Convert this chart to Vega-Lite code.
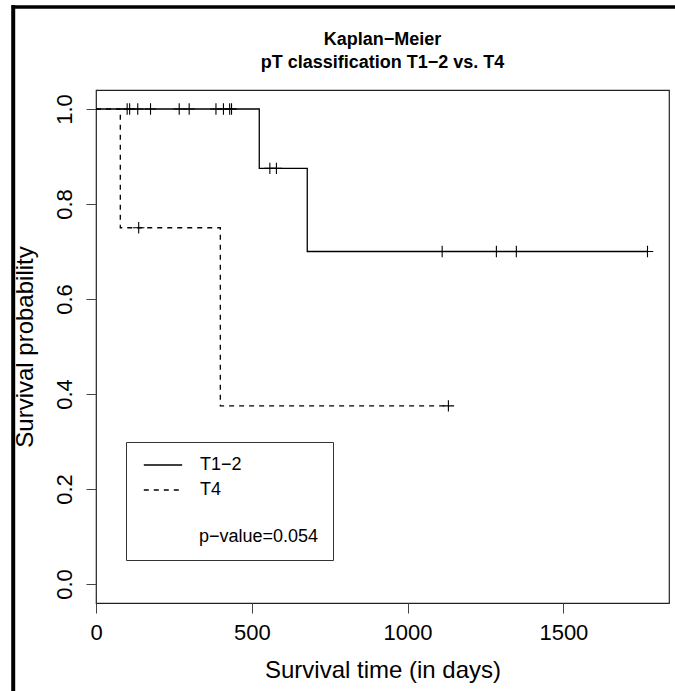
{
  "$schema": "https://vega.github.io/schema/vega-lite/v6.json",
  "width": 573,
  "height": 513,
  "autosize": {"type": "none"},
  "padding": {"left": 96, "top": 90, "right": 6, "bottom": 88},
  "background": "white",
  "config": {
    "font": "Liberation Sans",
    "view": {"stroke": "#222", "strokeWidth": 1.2}
  },
  "title": {
    "text": ["Kaplan−Meier", "pT classification T1−2 vs. T4"],
    "fontSize": 18,
    "fontWeight": "bold",
    "color": "black",
    "anchor": "middle",
    "frame": "group",
    "offset": 17,
    "dy": 86,
    "lineHeight": 23
  },
  "datasets": {
    "curves": [
      {"time": 0, "surv": 1.0, "group": "T1−2"},
      {"time": 524, "surv": 0.875, "group": "T1−2"},
      {"time": 678, "surv": 0.7, "group": "T1−2"},
      {"time": 1770, "surv": 0.7, "group": "T1−2"},
      {"time": 0, "surv": 1.0, "group": "T4"},
      {"time": 78, "surv": 0.75, "group": "T4"},
      {"time": 399, "surv": 0.375, "group": "T4"},
      {"time": 1131, "surv": 0.375, "group": "T4"}
    ],
    "censored": [
      {"time": 100, "surv": 1.0, "group": "T1−2"},
      {"time": 108, "surv": 1.0, "group": "T1−2"},
      {"time": 134, "surv": 1.0, "group": "T1−2"},
      {"time": 175, "surv": 1.0, "group": "T1−2"},
      {"time": 267, "surv": 1.0, "group": "T1−2"},
      {"time": 299, "surv": 1.0, "group": "T1−2"},
      {"time": 385, "surv": 1.0, "group": "T1−2"},
      {"time": 409, "surv": 1.0, "group": "T1−2"},
      {"time": 429, "surv": 1.0, "group": "T1−2"},
      {"time": 435, "surv": 1.0, "group": "T1−2"},
      {"time": 558, "surv": 0.875, "group": "T1−2"},
      {"time": 579, "surv": 0.875, "group": "T1−2"},
      {"time": 1111, "surv": 0.7, "group": "T1−2"},
      {"time": 1285, "surv": 0.7, "group": "T1−2"},
      {"time": 1349, "surv": 0.7, "group": "T1−2"},
      {"time": 1770, "surv": 0.7, "group": "T1−2"},
      {"time": 137, "surv": 0.75, "group": "T4"},
      {"time": 1131, "surv": 0.375, "group": "T4"}
    ]
  },
  "layer": [
    {
      "data": {"name": "curves"},
      "mark": {"type": "line", "interpolate": "step-after", "color": "black", "strokeWidth": 1.3},
      "encoding": {
        "x": {
          "field": "time",
          "type": "quantitative",
          "scale": {"domain": [0, 1839], "nice": false, "zero": false},
          "axis": {
            "values": [0, 500, 1000, 1500],
            "format": "d",
            "grid": false,
            "domain": false,
            "tickSize": 10,
            "tickColor": "#444",
            "labelFontSize": 22,
            "labelColor": "black",
            "labelPadding": 9,
            "labelFlush": false,
            "labelOverlap": false,
            "title": "Survival time (in days)",
            "titleFontSize": 24,
            "titleFontWeight": "normal",
            "titleColor": "black",
            "titleBaseline": "alphabetic",
            "titleY": 74
          }
        },
        "y": {
          "field": "surv",
          "type": "quantitative",
          "scale": {"domain": [-0.04, 1.04], "nice": false, "zero": false},
          "axis": {
            "values": [0, 0.2, 0.4, 0.6, 0.8, 1.0],
            "format": ".1f",
            "grid": false,
            "domain": false,
            "tickSize": 10,
            "tickColor": "#444",
            "labelFontSize": 22,
            "labelColor": "black",
            "labelAngle": 270,
            "labelAlign": "center",
            "labelBaseline": "alphabetic",
            "labelPadding": 15,
            "labelOverlap": false,
            "title": "Survival probability",
            "titleFontSize": 24,
            "titleFontWeight": "normal",
            "titleColor": "black",
            "titleAngle": 270,
            "titleAlign": "center",
            "titleBaseline": "alphabetic",
            "titleX": -64,
            "titleY": 256.5
          }
        },
        "strokeDash": {
          "field": "group",
          "type": "nominal",
          "scale": {"domain": ["T1−2", "T4"], "range": [[1, 0], [5, 5]]},
          "legend": {
            "title": "p−value=0.054",
            "orient": "none",
            "legendX": 30,
            "legendY": 352,
            "strokeColor": "#333",
            "fillColor": "white",
            "padding": 14,
            "titleOrient": "bottom",
            "titleFontSize": 18,
            "titleFontWeight": "normal",
            "titleColor": "black",
            "titlePadding": 29,
            "labelFontSize": 18,
            "labelColor": "black",
            "labelOffset": 28,
            "symbolType": "M-2.4,0H2.4",
            "symbolSize": 256,
            "symbolOffset": 14,
            "symbolStrokeColor": "black",
            "symbolStrokeWidth": 1.3,
            "rowPadding": 7,
            "encode": {"title": {"update": {"dx": {"value": 59}}}}
          }
        }
      }
    },
    {
      "data": {"name": "censored"},
      "mark": {
        "type": "point",
        "shape": "M-1,0H1M0,-1V1",
        "filled": false,
        "stroke": "black",
        "strokeWidth": 1.1,
        "size": 130,
        "opacity": 1
      },
      "encoding": {
        "x": {"field": "time", "type": "quantitative"},
        "y": {"field": "surv", "type": "quantitative"}
      }
    },
    {
      "data": {"values": [{"edge": "top"}]},
      "mark": {"type": "rule", "color": "black", "strokeWidth": 3.5, "clip": false},
      "encoding": {
        "x": {"datum": -270, "type": "quantitative"},
        "x2": {"datum": 1880},
        "y": {"datum": 1.2149, "type": "quantitative"}
      }
    },
    {
      "data": {"values": [{"edge": "left"}]},
      "mark": {"type": "rule", "color": "black", "strokeWidth": 4, "clip": false},
      "encoding": {
        "x": {"datum": -265.7, "type": "quantitative"},
        "y": {"datum": 1.219, "type": "quantitative"},
        "y2": {"datum": -0.25}
      }
    }
  ]
}
